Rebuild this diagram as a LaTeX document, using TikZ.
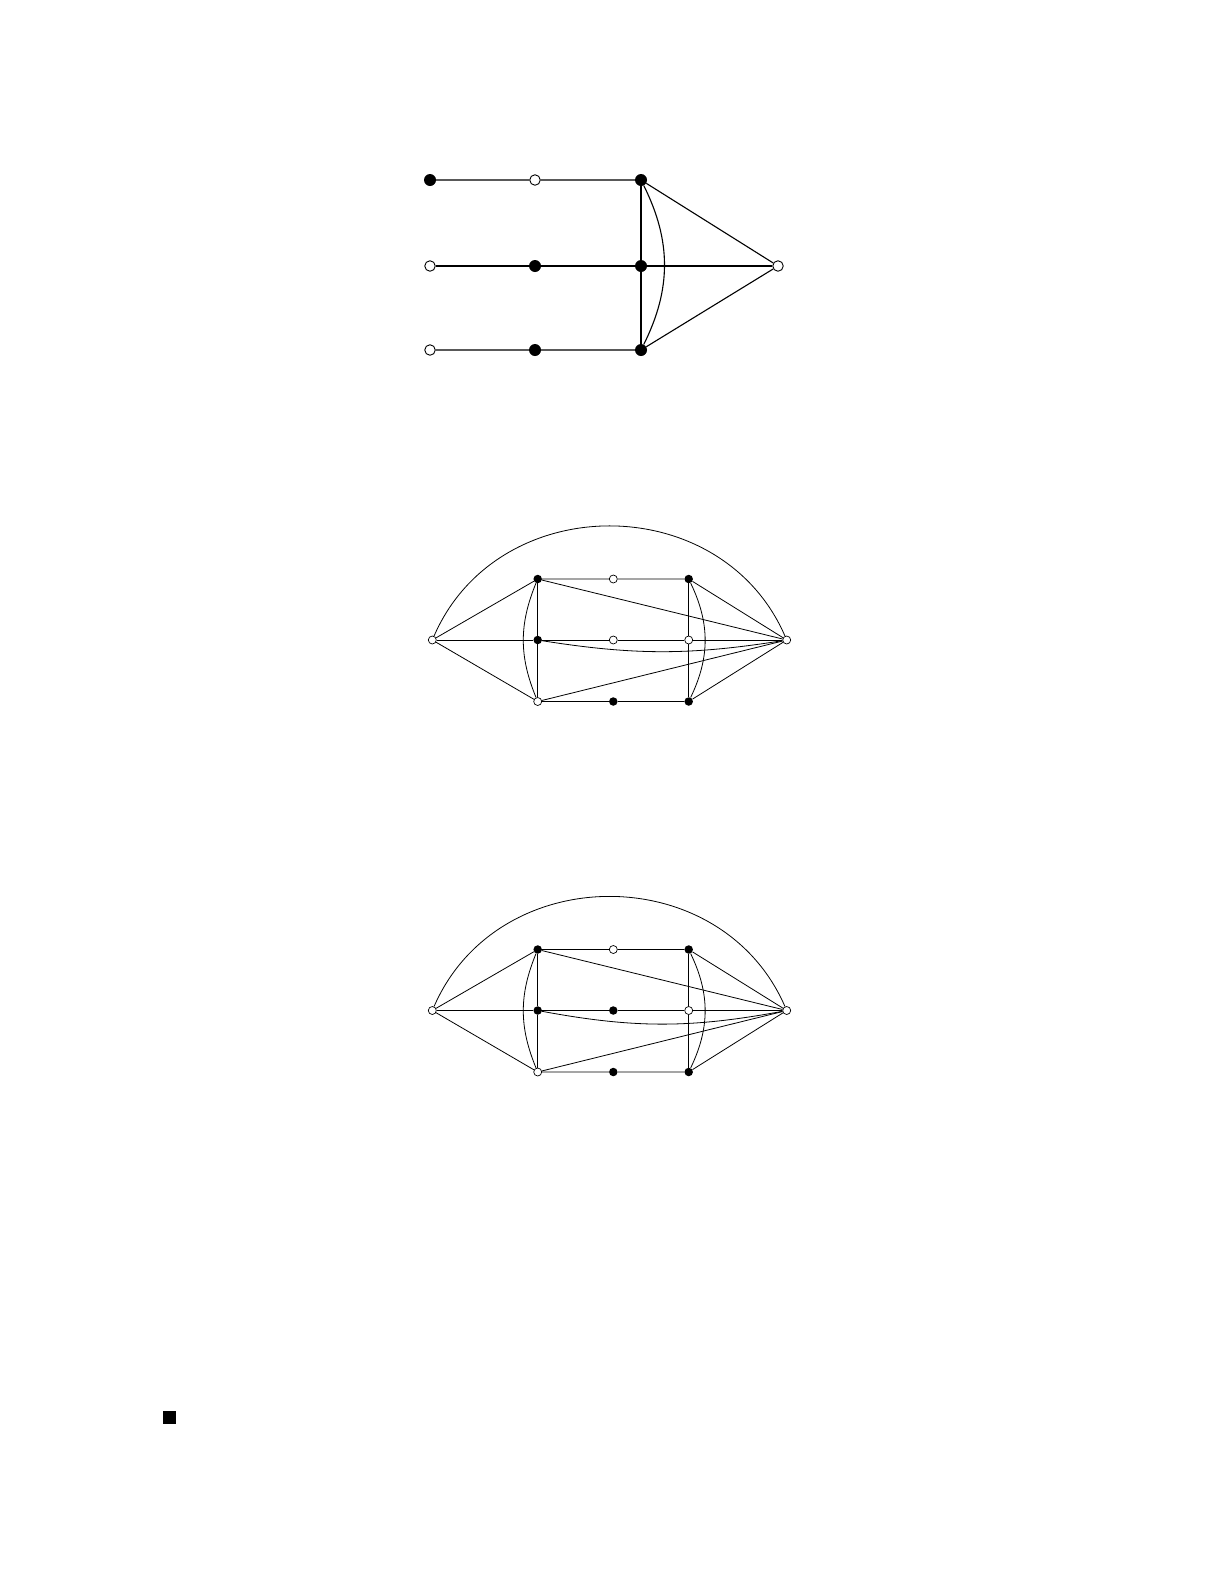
\documentclass[tikz,border=0pt]{standalone}
\usetikzlibrary{positioning}

\begin{document}
\begin{tikzpicture}[x=1pt, y=-1pt]
	\tikzset{
		fullv/.style = {circle, fill=black, inner sep=0pt, minimum size=12pt},
		emptyv/.style = {circle, draw, fill=white, inner sep=0pt, minimum size=10.5pt, line width=0.9pt},
		smallfull/.style = {circle, fill=black, inner sep=0pt, minimum size=8.5pt},
		smallempty/.style = {circle, draw, fill=white, inner sep=0pt, minimum size=8pt, line width=0.7pt},
		edge/.style = {line width=1.1pt},
		thinedge/.style = {line width=0.8pt},
	}
	\useasboundingbox (0,0) rectangle (1225,1585);

	% first graph
	\foreach \n/\x/\y/\s in {a1/430/180/fullv, a2/535/180/emptyv, a3/641/180/fullv,
		b1/430/266/emptyv, b2/535/266/fullv, b3/641/266/fullv,
		c1/430/350/emptyv, c2/535/350/fullv, c3/641/350/fullv, tip/778/266/emptyv}
		{
			\node[\s] (\n) at (\x,\y) {};
		}

	\draw[edge] (a1) -- (a2) -- (a3) -- (tip) -- (c3) -- (c2) -- (c1);
	\draw[edge] (b1) -- (b2) -- (b3) -- (tip);
	\draw[edge] (a3) -- (b3) -- (c3);
	\draw[edge] (a3) to[bend left=26.5] (c3);

	% second and third graph
	\foreach \g/\y/\m/\s in {p/640/smallempty/9, q/1010.5/smallfull/10.5}
		{
			\node[smallempty] (\g-l) at (432.3,\y) {};
			\node[smallempty] (\g-r) at (786.7,\y) {};
			\node[smallfull] (\g-tl) at (537.7,\y-61) {};
			\node[smallempty] (\g-tm) at (613.3,\y-61) {};
			\node[smallfull] (\g-tr) at (688.7,\y-61) {};
			\node[smallfull] (\g-ml) at (537.7,\y) {};
			\node[\m] (\g-mm) at (613.3,\y) {};
			\node[smallempty] (\g-mr) at (688.7,\y) {};
			\node[smallempty] (\g-bl) at (537.7,\y+61.5) {};
			\node[smallfull] (\g-bm) at (613.3,\y+61.5) {};
			\node[smallfull] (\g-br) at (688.7,\y+61.5) {};

			\draw[thinedge] (\g-l) -- (\g-tl) -- (\g-tm) -- (\g-tr) -- (\g-r) -- (\g-br) -- (\g-bm) -- (\g-bl) -- (\g-l);
			\draw[thinedge] (\g-l) -- (\g-ml) -- (\g-mm) -- (\g-mr) -- (\g-r);
			\draw[thinedge] (\g-tl) -- (\g-ml) -- (\g-bl);
			\draw[thinedge] (\g-tr) -- (\g-mr) -- (\g-br);
			\draw[thinedge] (\g-tl) -- (\g-r);
			\draw[thinedge] (\g-bl) -- (\g-r);
			\draw[thinedge] (\g-tl) to[bend right=22.4] (\g-bl);
			\draw[thinedge] (\g-tr) to[bend left=25.7] (\g-br);
			\draw[thinedge] (\g-ml) to[bend right=\s] (\g-r);
			\draw[thinedge] (\g-l) to[out=66.5, in=113.5, looseness=1.17] (\g-r);
		}

	\node[fill=black, inner sep=0pt, minimum size=13pt] (qedbox) at (169.3,1417) {};
\end{tikzpicture}
\end{document}
